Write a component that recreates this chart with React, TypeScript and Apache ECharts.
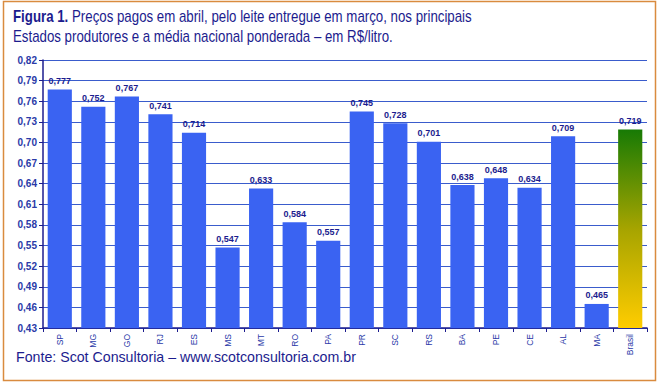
import React, { useEffect, useRef } from "react";
import * as echarts from "echarts";

const categories = ["SP", "MG", "GO", "RJ", "ES", "MS", "MT", "RO", "PA", "PR", "SC", "RS", "BA", "PE", "CE", "AL", "MA", "Brasil"];
const prices = [0.777, 0.752, 0.767, 0.741, 0.714, 0.547, 0.633, 0.584, 0.557, 0.745, 0.728, 0.701, 0.638, 0.648, 0.634, 0.709, 0.465, 0.719];
const axisMin = 0.43;
const axisMax = 0.82;
const axisStep = 0.03;

const fmt = (v: number) => v.toFixed(3).replace(".", ",");

export default function App() {
  const ref = useRef<HTMLDivElement>(null);
  useEffect(() => {
    const chart = echarts.init(ref.current!, undefined, { renderer: "svg" });
    const navy = "#1c1c8e";
    const data = prices.map((p, i) => {
      const item: any = { value: p - axisMin };
      if (categories[i] === "Brasil") {
        item.itemStyle = {
          color: new echarts.graphic.LinearGradient(0, 0, 0, 1, [
            { offset: 0, color: "#177a05" },
            { offset: 0.5, color: "#a6a400" },
            { offset: 1, color: "#ffcc00" },
          ]),
        };
      }
      return item;
    });
    chart.setOption({
      animation: false,
      backgroundColor: "#ffffff",
      graphic: [
        {
          type: "rect",
          shape: { x: 3.5, y: 1.5, width: 652, height: 379 },
          style: { fill: "none", stroke: "#d98b3f", lineWidth: 1.5 },
          silent: true,
        },
        {
          type: "text",
          x: 13,
          y: 7,
          scaleX: 0.83,
          style: {
            text: "{b|Figura 1.} Preços pagos em abril, pelo leite entregue em março, nos principais\nEstados produtores e a média nacional ponderada – em R$/litro.",
            fontFamily: "Liberation Sans",
            fontSize: 16,
            fill: navy,
            lineHeight: 20,
            rich: {
              b: { fontFamily: "Liberation Sans", fontSize: 16, fontWeight: "bold", fill: navy, lineHeight: 20 },
            },
          },
        },
        {
          type: "text",
          x: 16,
          y: 350,
          style: {
            text: "Fonte: Scot Consultoria – www.scotconsultoria.com.br",
            fontFamily: "Liberation Sans",
            fontSize: 14.2,
            fill: navy,
          },
        },
      ],
      grid: { left: 43, right: 12, top: 60, bottom: 56 },
      xAxis: {
        type: "category",
        data: categories,
        axisLine: { lineStyle: { color: navy, width: 1.5 } },
        axisTick: { show: true, length: 4, lineStyle: { color: navy } },
        axisLabel: {
          rotate: 90,
          fontSize: 8.5,
          fontFamily: "Liberation Sans",
          color: "#2a3aa8",
          margin: 6,
          interval: 0,
        },
      },
      yAxis: {
        type: "value",
        min: 0,
        max: axisMax - axisMin,
        interval: axisStep,
        axisLine: { show: true, lineStyle: { color: navy, width: 1.5 } },
        axisTick: { show: true, length: 4, lineStyle: { color: navy } },
        splitLine: { lineStyle: { color: "#3a5ccc", width: 1 } },
        axisLabel: {
          fontSize: 10,
          fontWeight: "bold",
          fontFamily: "Liberation Sans",
          color: "#2a3aa8",
          margin: 6,
          formatter: (v: number) => (v + axisMin).toFixed(2).replace(".", ","),
        },
      },
      series: [
        {
          type: "bar",
          data,
          barCategoryGap: "28%",
          itemStyle: { color: "#3a63f2" },
          label: {
            show: true,
            position: "top",
            distance: 4,
            fontSize: 9,
            fontWeight: "bold",
            fontFamily: "Liberation Sans",
            color: navy,
            formatter: (p: any) => fmt(prices[p.dataIndex]),
          },
        },
      ],
    });
    return () => chart.dispose();
  }, []);
  return <div ref={ref} style={{ width: 659, height: 384, position: "absolute", left: 0, top: 0 }} />;
}
